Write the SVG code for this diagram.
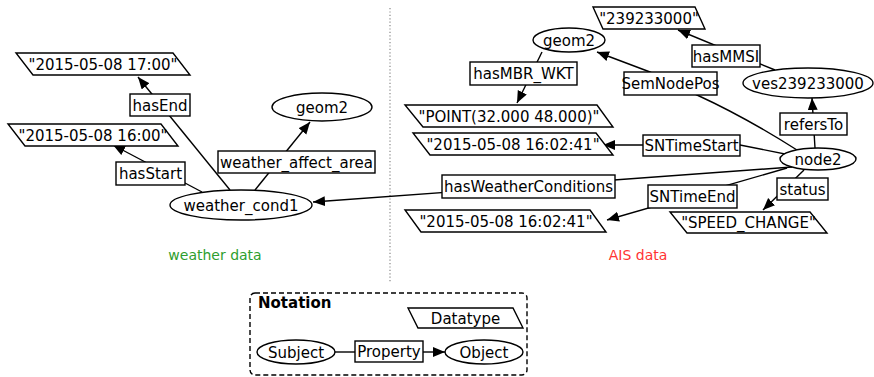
<svg xmlns="http://www.w3.org/2000/svg" width="874" height="377" viewBox="0 0 874 377">
<defs>
<marker id="arr" markerUnits="userSpaceOnUse" markerWidth="14" markerHeight="11" refX="12" refY="5" orient="auto">
<path d="M0,0 L12,5 L0,10 z" fill="#000"/>
</marker>
<style>
text{font-family:"DejaVu Sans","Liberation Sans",sans-serif;font-size:15px;fill:#000;text-anchor:middle}
.n ellipse,.n rect,.n polygon{fill:#fff;stroke:#000;stroke-width:1.4}
.e{fill:none;stroke:#000;stroke-width:1.4}
.ea{fill:none;stroke:#000;stroke-width:1.4;marker-end:url(#arr)}
</style>
</defs>
<rect width="874" height="377" fill="#fff"/>
<line x1="390" y1="8" x2="390" y2="282" stroke="#888" stroke-width="1.2" stroke-dasharray="1.2,2.2"/>

<g id="connectors">
<line class="ea" x1="202" y1="192" x2="113" y2="145"/>
<line class="ea" x1="230" y1="190" x2="138" y2="77"/>
<line class="ea" x1="255" y1="190" x2="310" y2="122"/>
<line class="ea" x1="792" y1="167" x2="313" y2="202"/>
<line class="ea" x1="775" y1="70" x2="678" y2="30"/>
<path class="ea" d="M797,150 Q745,117 697,95 L650,72 L597,52"/>
<line class="ea" x1="542" y1="52" x2="517" y2="103"/>
<path class="ea" d="M795,156 L740,145 L603,145"/>
<line class="ea" x1="787" y1="168" x2="607" y2="220"/>
<line class="ea" x1="804" y1="170" x2="763" y2="210"/>
<line class="ea" x1="815" y1="148" x2="812" y2="98"/>
<line class="e" x1="335" y1="352" x2="355" y2="352"/>
<line class="ea" x1="423" y1="352" x2="445" y2="352"/>
</g>

<g id="n_end" class="n"><polygon points="16,53 173,53 190,75 33,75"/><text x="103" y="69.5">"2015-05-08 17:00"</text></g>
<g id="n_start" class="n"><polygon points="8,124 161,124 178,146 25,146"/><text x="93" y="140.5">"2015-05-08 16:00"</text></g>
<g id="l_hasEnd" class="n"><rect x="130" y="94" width="60" height="22"/><text x="160" y="110.5">hasEnd</text></g>
<g id="l_hasStart" class="n"><rect x="116" y="162" width="69" height="23"/><text x="150.5" y="179">hasStart</text></g>
<g id="n_geom2_left" class="n"><ellipse cx="322" cy="107" rx="50" ry="14"/><text x="322" y="112.5">geom2</text></g>
<g id="l_waa" class="n"><rect x="218" y="151" width="157" height="22"/><text x="296.5" y="167.5">weather_affect_area</text></g>
<g id="n_wc1" class="n"><ellipse cx="241" cy="205" rx="71" ry="15"/><text x="241" y="210.5">weather_cond1</text></g>

<g id="n_mmsi" class="n"><polygon points="593,7 695,7 705,29 603,29"/><text x="649" y="23.5">"239233000"</text></g>
<g id="n_geom2_right" class="n"><ellipse cx="569" cy="40" rx="36" ry="12"/><text x="569" y="45.5">geom2</text></g>
<g id="l_hasMMSI" class="n"><rect x="692" y="45" width="68" height="22"/><text x="726" y="61.5">hasMMSI</text></g>
<g id="l_semnodepos" class="n"><rect x="624" y="72" width="93" height="23"/><text x="670.5" y="89">SemNodePos</text></g>
<g id="n_ves" class="n"><ellipse cx="808" cy="83" rx="65" ry="15"/><text x="808" y="88.5">ves239233000</text></g>
<g id="l_hasMBR" class="n"><rect x="470" y="62" width="107" height="23"/><text x="523.5" y="79">hasMBR_WKT</text></g>
<g id="n_point" class="n"><polygon points="405,105 597,105 613,127 423,127"/><text x="509" y="121.5">"POINT(32.000 48.000)"</text></g>
<g id="l_refersTo" class="n"><rect x="780" y="113" width="67" height="22"/><text x="813.5" y="129.5">refersTo</text></g>
<g id="n_ts" class="n"><polygon points="413,133 596,133 613,155 430,155"/><text x="513" y="149.5">"2015-05-08 16:02:41"</text></g>
<g id="l_snts" class="n"><rect x="643" y="135" width="97" height="21"/><text x="691.5" y="151">SNTimeStart</text></g>
<g id="n_node2" class="n"><ellipse cx="818" cy="159" rx="38" ry="11"/><text x="818" y="164.5">node2</text></g>
<g id="l_hwc" class="n"><rect x="442" y="175" width="173" height="23"/><text x="528.5" y="192">hasWeatherConditions</text></g>
<g id="l_snte" class="n"><rect x="648" y="185" width="89" height="23"/><text x="692.5" y="202">SNTimeEnd</text></g>
<g id="l_status" class="n"><rect x="777" y="178" width="51" height="22"/><text x="802.5" y="194.5">status</text></g>
<g id="n_te" class="n"><polygon points="405,210 590,210 606,232 421,232"/><text x="506" y="226.5">"2015-05-08 16:02:41"</text></g>
<g id="n_speed" class="n"><polygon points="670,212 810,212 827,233 687,233"/><text x="748.5" y="228">"SPEED_CHANGE"</text></g>

<text x="215" y="260" style="font-size:14px;fill:#2e9e2e">weather data</text>
<text x="638" y="260" style="font-size:14px;fill:#ff3333">AIS data</text>

<g id="notation">
<rect x="250" y="293" width="277" height="82" rx="5" fill="none" stroke="#000" stroke-width="1.4" stroke-dasharray="5,3"/>
<text x="258" y="308" style="font-weight:bold;text-anchor:start">Notation</text>
<g id="n_datatype" class="n"><polygon points="408,308 513,308 523,328 418,328"/><text x="465.5" y="323.5">Datatype</text></g>
<g id="n_subject" class="n"><ellipse cx="296" cy="352" rx="39" ry="12"/><text x="296" y="357.5">Subject</text></g>
<g id="l_property" class="n"><rect x="355" y="341" width="68" height="21"/><text x="389" y="357">Property</text></g>
<g id="n_object" class="n"><ellipse cx="484" cy="352" rx="39" ry="12"/><text x="484" y="357.5">Object</text></g>
</g>
</svg>
